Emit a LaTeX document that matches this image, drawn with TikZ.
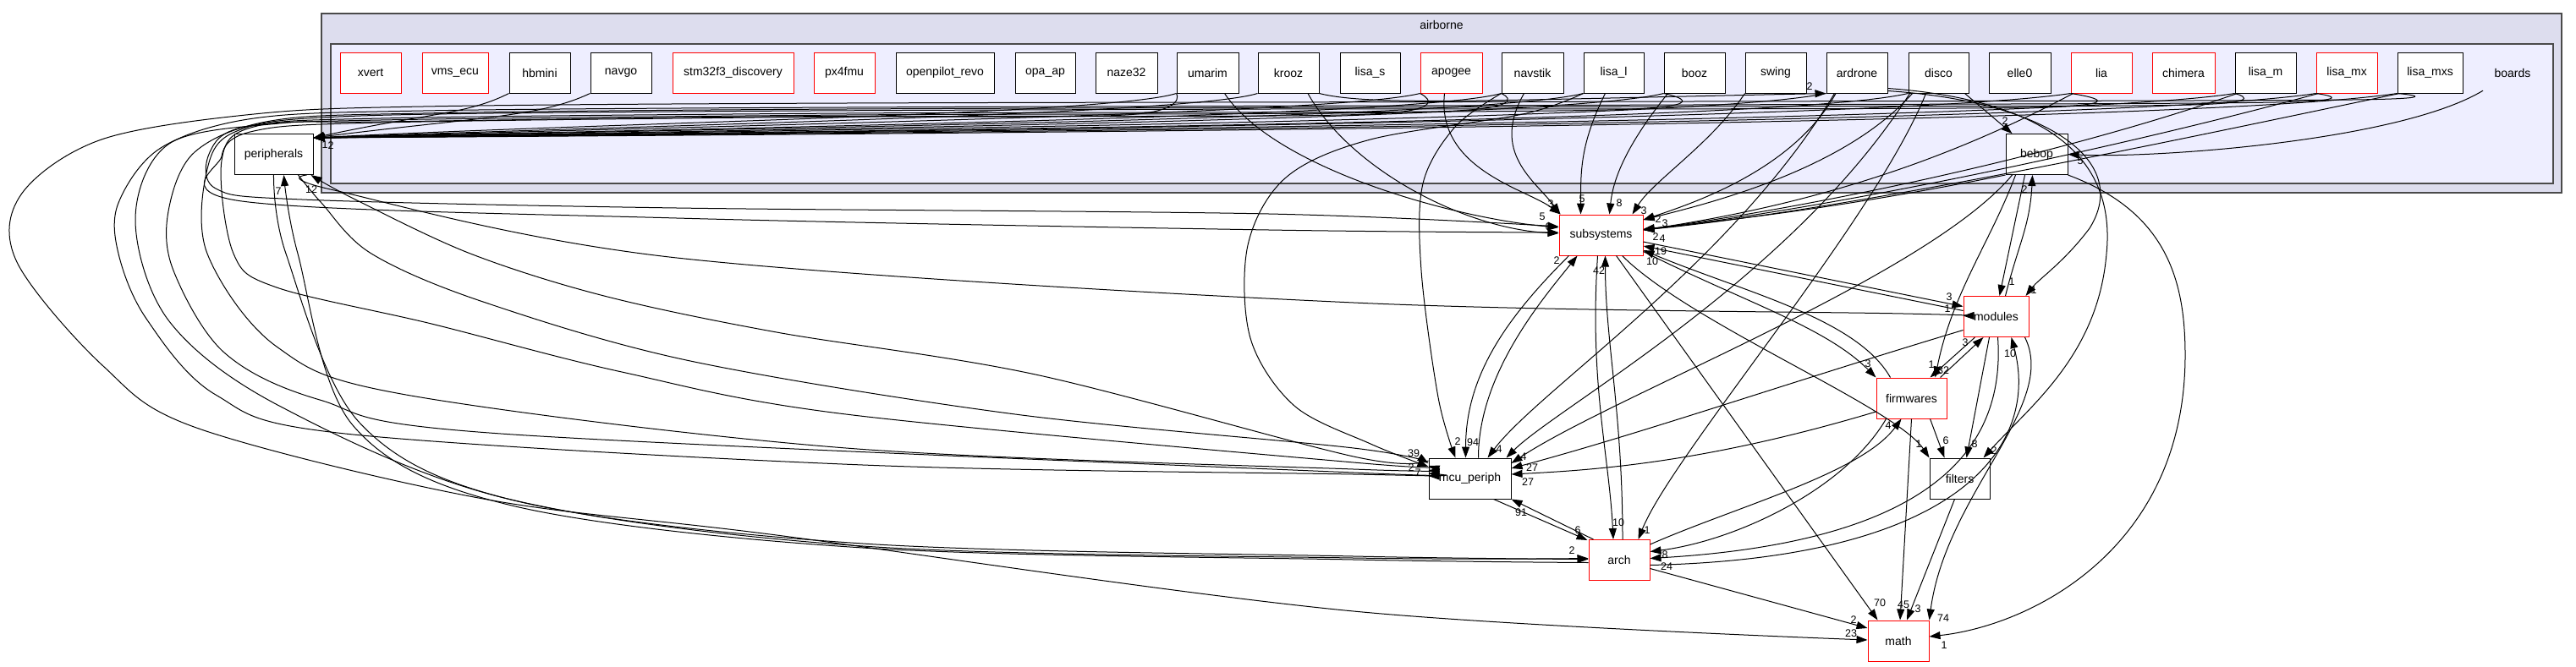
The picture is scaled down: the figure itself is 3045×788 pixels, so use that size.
\documentclass[tikz,border=0pt]{standalone}
\usepackage{fontspec}
\setmainfont{Liberation Sans}
\usetikzlibrary{arrows.meta,calc}
\definecolor{clA}{HTML}{DDDDEE}
\definecolor{clB}{HTML}{EEEEFF}
\definecolor{clE}{HTML}{4A4A4A}
\begin{document}
\begin{tikzpicture}[x=1pt,y=-1pt,
 box/.style={draw=black, fill=white, line width=1pt, minimum height=48pt, inner sep=0pt, font=\fontsize{14}{17}\selectfont},
 redbox/.style={box, draw=red},
 e/.style={line width=1pt, -{Triangle[length=13pt,width=9pt]}},
 lbl/.style={inner sep=0pt, font=\fontsize{12.5}{14}\selectfont},
 clab/.style={inner sep=0pt, font=\fontsize{14}{17}\selectfont}]
\useasboundingbox (0,0) rectangle (3045,788);
\fill[white] (0,0) rectangle (3045,788);
% clusters
\filldraw[fill=clA, draw=clE, line width=2pt] (380,16) rectangle (3028,228);
\node[clab] (airborne) at (1704,29) {airborne};
\filldraw[fill=clB, draw=clE, line width=1.6pt] (391,52) rectangle (3018,217);
% board nodes
\node[redbox, minimum width=72pt] (xvert) at (438,86) {xvert};
\node[redbox, minimum width=78pt] (vms) at (538,86) {vms\_ecu};
\node[box, minimum width=72pt] (hbmini) at (638,86) {hbmini};
\node[box, minimum width=72pt] (navgo) at (734,86) {navgo};
\node[redbox, minimum width=143pt] (stm) at (866.5,86) {stm32f3\_discovery};
\node[redbox, minimum width=72pt] (px4) at (998,86) {px4fmu};
\node[box, minimum width=116pt] (opr) at (1117,86) {openpilot\_revo};
\node[box, minimum width=71pt] (opa) at (1235.5,86) {opa\_ap};
\node[box, minimum width=73pt] (naze) at (1331.5,86) {naze32};
\node[box, minimum width=73pt] (umarim) at (1427.5,86) {umarim};
\node[box, minimum width=72pt] (krooz) at (1523,86) {krooz};
\node[box, minimum width=71pt] (lisas) at (1619.5,86) {lisa\_s};
\node[redbox, minimum width=73pt] (apogee) at (1715.5,86) {apogee};
\node[box, minimum width=73pt] (navstik) at (1811.5,86) {navstik};
\node[box, minimum width=71pt] (lisal) at (1907.5,86) {lisa\_l};
\node[box, minimum width=72pt] (booz) at (2003,86) {booz};
\node[box, minimum width=72pt] (swing) at (2099,86) {swing};
\node[box, minimum width=72pt] (ardrone) at (2195,86) {ardrone};
\node[box, minimum width=71pt] (disco) at (2291.5,86) {disco};
\node[box, minimum width=73pt] (elle) at (2387.5,86) {elle0};
\node[redbox, minimum width=72pt] (lia) at (2484,86) {lia};
\node[redbox, minimum width=74pt] (chimera) at (2581,86) {chimera};
\node[box, minimum width=72pt] (lisam) at (2678,86) {lisa\_m};
\node[redbox, minimum width=72pt] (lisamx) at (2774,86) {lisa\_mx};
\node[box, minimum width=77pt] (lisamxs) at (2872.5,86) {lisa\_mxs};
\node[clab, minimum height=48pt] (boards) at (2970,86) {boards};
\node[box, minimum width=73pt] (bebop) at (2407.5,182.5) {bebop};
% other nodes
\node[box, minimum width=93pt] (periph) at (323.5,182.5) {peripherals};
\node[redbox, minimum width=99pt] (subsys) at (1892.5,278) {subsystems};
\node[redbox, minimum width=77pt] (modules) at (2359.5,374.5) {modules};
\node[redbox, minimum width=83pt] (firm) at (2259.5,471) {firmwares};
\node[box, minimum width=97pt] (mcu) at (1737.5,566) {mcu\_periph};
\node[box, minimum width=71pt] (filters) at (2316.5,566) {filters};
\node[redbox, minimum width=72pt] (arch) at (1914,662.5) {arch};
\node[redbox, minimum width=72pt] (math) at (2244,758) {math};

% ---- boards -> peripherals
\draw[e] (hbmini.south west) .. controls +(-50,25) and +(140,-30) .. ($(periph.north east)+(0,5)$);
\draw[e] (navgo.south west) .. controls +(-60,28) and +(200,-25) .. ($(periph.north east)+(0,5)$);
\draw[e] (umarim.south west) .. controls +(-80,25) and +(350,-18) .. ($(periph.north east)+(0,5)$);
\draw[e] (krooz.south west) .. controls +(-80,25) and +(400,-15) .. ($(periph.north east)+(0,5)$);
\draw[e] (apogee.south west) .. controls +(-100,25) and +(450,-14) .. ($(periph.north east)+(0,5)$);
\draw[e] (navstik.south west) .. controls +(-100,28) and +(500,-12) .. ($(periph.north east)+(0,5)$);
\draw[e] (lisal.south west) .. controls +(-120,30) and +(550,-12) .. ($(periph.north east)+(0,5)$);
\draw[e] (booz.south west) .. controls +(-120,30) and +(600,-10) .. ($(periph.north east)+(0,5)$);
\draw[e] (ardrone.south west) .. controls +(-150,32) and +(650,-10) .. ($(periph.north east)+(0,5)$);
\draw[e] (disco.south west) .. controls +(-150,35) and +(700,-9) .. ($(periph.north east)+(0,5)$);
\draw[e] (lia.south west) .. controls +(-200,30) and +(800,-8) .. ($(periph.north east)+(0,5)$);
\draw[e] (lisam.south west) .. controls +(-200,32) and +(850,-8) .. ($(periph.north east)+(0,5)$);
\draw[e] (lisamx.south west) .. controls +(-220,34) and +(900,-7) .. ($(periph.north east)+(0,5)$);
\draw[e] (lisamxs.south west) .. controls +(-240,36) and +(950,-6) .. ($(periph.north east)+(0,5)$);
\node[lbl] (la1) at (384,171) {1};
\node[lbl] (la2) at (391,172) {2};

% ---- wrap-around edges
\draw[e] plot[smooth, tension=0.55] coordinates {(lisamxs.south west) (2780,118) (2000,120) (1000,122) (500,126) (300,135) (120,165) (25,230) (20,310) (122,433) (235,507) (571,590) (918,633) (1600,723) ($(math.west)+(0,-1)$)};
\node[lbl] (l23) at (2188,749) {23};
\draw[e] plot[smooth, tension=0.55] coordinates {(lisamx.south west) (2690,121) (2000,124) (1000,127) (500,131) (300,140) (190,175) (140,240) (140,300) (173,377) (255,467) (408,513) (1020,550) (1600,561) ($(mcu.west)+(0,-3)$)};
\draw[e] plot[smooth, tension=0.55] coordinates {(lisam.south west) (2590,124) (2000,126) (1000,129) (500,134) (320,143) (230,180) (199,250) (205,320) (265,417) (378,473) (592,513) (1600,559) ($(mcu.west)+(0,-6)$)};
\draw[e] plot[smooth, tension=0.55] coordinates {(lia.south west) (2400,127) (1500,129) (800,132) (400,138) (280,155) (245,200) (245,300) (327,410) (480,467) (1000,530) (1600,555) ($(mcu.west)+(0,-10)$)};
\draw[e] plot[smooth, tension=0.55] coordinates {(booz.south west) (1900,130) (1000,134) (450,140) (300,150) (262,190) (276,300) (327,340) (510,383) (735,440) (1000,490) (1600,547) ($(mcu.west)+(0,-15)$)};
\draw[e] plot[smooth, tension=0.55] coordinates {(navstik.south west) (1700,132) (1000,136) (450,142) (290,150) (248,180) (255,223) (357,236) (800,246) (1500,253) ($(subsys.west)+(0,-10)$)};
\draw[e] plot[smooth, tension=0.55] coordinates {(apogee.south west) (1620,135) (1000,138) (450,145) (300,155) (262,185) (286,238) (800,258) (1500,272) ($(subsys.west)+(0,-3)$)};
\draw[e] plot[smooth, tension=0.55] coordinates {(umarim.south west) (1330,136) (900,138) (450,144) (330,146) (200,170) (160,260) (200,380) (330,480) (600,590) (1020,646) (1600,660) ($(arch.west)+(0,-2)$)};
\draw[e] plot[smooth, tension=0.55] coordinates {(lisal.south west) (1800,135) (1620,165) (1520,210) (1475,290) (1478,400) (1530,480) (1620,525) ($(mcu.west)+(0,-14)$)};
\node[lbl] (l39) at (1671,536) {39};
\node[lbl] (lm2) at (1668,553) {2};
\node[lbl] (lm7) at (1676,559) {7};

% ---- peripherals edges
\draw[e] plot[smooth, tension=0.55] coordinates {(periph.south) (338,300) (425,500) (612,593) (1020,643) (1600,658) ($(arch.west)+(0,-1)$)};
\node[lbl] (lar2) at (1858,651) {2};
\draw[e] plot[smooth, tension=0.55] coordinates {($(arch.west)+(0,3)$) (1600,662) (1020,648) (605,598) (417,503) (352,300) ($(periph.south)+(12,0)$)};
\node[lbl] (lp7) at (329,226) {7};
\draw[e] plot[smooth, tension=0.55] coordinates {($(periph.south east)+(-18,0)$) (380,240) (439,300) (571,357) (816,427) (1200,490) (1600,530) ($(mcu.west)+(0,-18)$)};
\draw[e] plot[smooth, tension=0.55] coordinates {($(mcu.west)+(0,-21)$) (1600,540) (1224,443) (918,393) (714,350) (556,300) (420,236) ($(periph.south east)+(-3,0)$)};
\node[lbl] (lp12) at (368,224) {12};
\draw[e] plot[smooth, tension=0.55] coordinates {($(periph.south east)+(-8,0)$) (395,225) (800,305) (1600,358) (2250,371) ($(modules.west)+(0,-1)$)};
\node[lbl] (lmo1) at (2302,365) {1};

% ---- boards -> subsystems
\draw[e] ($(umarim.south)+(20,0)$) .. controls +(60,90) and +(-120,-10) .. ($(subsys.west)+(0,-9)$);
\draw[e] ($(krooz.south)+(23,0)$) .. controls +(50,90) and +(-110,-5) .. ($(subsys.west)+(0,-2)$);
\node[lbl] (ls5) at (1823,256) {5};
\node[lbl] (ls6) at (1830,268) {6};
\draw[e] ($(apogee.south)+(-8,0)$) .. controls +(-10,90) and +(-40,-30) .. ($(subsys.north west)+(2,0)$);
\draw[e] ($(navstik.south)+(-10,0)$) .. controls +(-40,70) and +(-30,-40) .. ($(subsys.north west)+(2,0)$);
\node[lbl] (ls3a) at (1833,241) {3};
\draw[e] ($(lisal.south)+(-10,0)$) .. controls +(-30,60) and +(0,-50) .. ($(subsys.north)+(-24,0)$);
\node[lbl] (ls5b) at (1870,235) {5};
\draw[e] ($(booz.south west)+(5,0)$) .. controls +(-40,50) and +(5,-50) .. ($(subsys.north)+(10,0)$);
\node[lbl] (ls8) at (1914,240) {8};
\draw[e] (swing.south west) .. controls +(-40,60) and +(25,-40) .. ($(subsys.north)+(37,0)$);
\node[lbl] (ls3b) at (1943,249) {3};
\draw[e] ($(ardrone.south)+(-25,0)$) .. controls +(-50,90) and +(60,-20) .. ($(subsys.east)+(0,-18)$);
\draw[e] ($(disco.south west)+(5,0)$) .. controls +(-80,90) and +(80,-20) .. ($(subsys.east)+(0,-18)$);
\node[lbl] (ls2a) at (1960,259) {2};
\node[lbl] (ls3c) at (1968,264) {3};
\draw[e] (bebop.south west) .. controls +(-150,30) and +(150,-15) .. ($(subsys.east)+(0,-7)$);
\draw[e] ($(lia.south west)+(3,0)$) .. controls +(-150,80) and +(200,-30) .. ($(subsys.east)+(0,-6)$);
\draw[e] ($(lisam.south west)+(3,0)$) .. controls +(-200,70) and +(220,-30) .. ($(subsys.east)+(0,-6)$);
\draw[e] ($(lisamx.south west)+(3,0)$) .. controls +(-220,60) and +(240,-28) .. ($(subsys.east)+(0,-6)$);
\draw[e] ($(lisamxs.south west)+(3,0)$) .. controls +(-240,50) and +(260,-26) .. ($(subsys.east)+(0,-6)$);
\node[lbl] (ls2b) at (1957,280) {2};
\node[lbl] (ls4) at (1965,282) {4};

% ---- other board edges
\draw[e] (krooz.south east) .. controls +(60,15) and +(-400,8) .. (ardrone.south west);
\node[lbl] (lad2) at (2139,102) {2};
\draw[e] ($(disco.south east)+(-5,0)$) -- ($(bebop.north west)+(8,0)$);
\node[lbl] (lbb2) at (2370,143) {2};
\draw[e] ($(boards.south)+(-35,-3)$) .. controls +(-100,60) and +(100,5) .. (bebop.east);
\node[lbl] (lbb5) at (2459,190) {5};
\draw[e] plot[smooth, tension=0.55] coordinates {(navstik.south west) (1720,150) (1682,217) (1680,320) (1700,470) ($(mcu.north)+(-17,0)$)};
\node[lbl] (lmc2) at (1723,522) {2};
\draw[e] ($(ardrone.south west)+(10,0)$) .. controls +(-120,200) and +(60,-80) .. ($(mcu.north east)+(-28,0)$);
\node[lbl] (lmc4a) at (1772,531) {4};
\draw[e] ($(disco.south west)+(2,0)$) .. controls +(-140,220) and +(60,-60) .. ($(mcu.north east)+(-6,0)$);
\draw[e] ($(bebop.south west)+(8,0)$) .. controls +(-100,120) and +(120,-80) .. ($(mcu.east)+(0,-18)$);
\node[lbl] (lmc4b) at (1801,540) {4};
\draw[e] ($(disco.south)+(-15,0)$) .. controls +(-60,150) and +(40,-100) .. ($(arch.north east)+(-14,0)$);
\node[lbl] (lar1) at (1947,627) {1};
\draw[e] ($(ardrone.south east)+(0,-3)$) .. controls (2420,120) and (2520,190) .. (2470,270) .. controls (2440,310) and (2410,330) .. ($(modules.north east)+(-4,0)$);
\node[lbl] (lmo1b) at (2404,343) {1};
\draw[e] ($(ardrone.south east)+(0,-6)$) .. controls (2440,120) and (2500,200) .. (2490,300) .. controls (2480,420) and (2400,480) .. ($(filters.north east)+(-8,0)$);
\node[lbl] (lfi2) at (2357,533) {2};

% ---- bebop edges
\draw[e] ($(bebop.south)+(-14,0)$) -- ($(modules.north)+(4,0)$);
\node[lbl] (lmo1c) at (2378,333) {1};
\draw[e] ($(modules.north)+(11,0)$) .. controls +(15,-60) and +(-3,60) .. ($(bebop.south)+(-5,0)$);
\node[lbl] (lbb2b) at (2393,224) {2};
\draw[e] ($(bebop.south west)+(12,0)$) .. controls +(-30,80) and +(20,-100) .. ($(firm.north east)+(-14,0)$);
\node[lbl] (lfw32) at (2297,438) {32};
\draw[e] (bebop.south east) .. controls (2560,250) and (2583,330) .. (2583,420) .. controls (2583,650) and (2400,740) .. ($(math.east)+(0,-5)$);
\node[lbl] (lma1) at (2298,763) {1};

% ---- subsystems edges
\draw[e] ($(subsys.south west)+(12,0)$) .. controls +(-70,70) and +(0,-100) .. ($(mcu.north)+(-5,0)$);
\node[lbl] (lmc94) at (1741,523) {94};
\draw[e] ($(mcu.north)+(10,0)$) .. controls +(0,-100) and +(-40,50) .. ($(subsys.south west)+(22,0)$);
\node[lbl] (ls2c) at (1840,308) {2};
\draw[e] ($(subsys.south)+(-4,0)$) .. controls +(-10,150) and +(-5,-100) .. ($(arch.north)+(-7,0)$);
\node[lbl] (lar10) at (1913,618) {10};
\draw[e] ($(arch.north)+(4,0)$) .. controls +(0,-150) and +(0,100) .. ($(subsys.south)+(5,0)$);
\node[lbl] (ls42) at (1890,320) {42};
\draw[e] ($(subsys.south east)+(-25,0)$) .. controls +(80,80) and +(-40,-60) .. (filters.north west);
\node[lbl] (lfi1) at (2268,525) {1};
\draw[e] ($(subsys.south east)+(-32,0)$) -- ($(math.north west)+(12,0)$);
\node[lbl] (lma70) at (2222,713) {70};
\draw[e] ($(subsys.east)+(0,8)$) -- ($(modules.west)+(0,-12)$);
\node[lbl] (lmo3) at (2304,351) {3};
\draw[e] ($(modules.west)+(0,-7)$) -- ($(subsys.east)+(0,13)$);
\node[lbl] (ls19) at (1963,297) {19};
\draw[e] ($(subsys.south east)+(0,-5)$) .. controls +(120,60) and +(-60,-60) .. (firm.north west);
\node[lbl] (lfw3) at (2208,430) {3};
\draw[e] ($(firm.north west)+(17,0)$) .. controls +(-40,-70) and +(120,50) .. ($(subsys.east)+(0,18)$);
\node[lbl] (ls10) at (1953,309) {10};

% ---- modules / firmwares edges
\draw[e] ($(modules.south west)+(14,0)$) -- ($(firm.north east)+(-20,0)$);
\node[lbl] (lfw1) at (2283,431) {1};
\draw[e] ($(firm.north east)+(-8,0)$) -- ($(modules.south west)+(24,0)$);
\node[lbl] (lmo3b) at (2323,405) {3};
\draw[e] ($(modules.west)+(0,16)$) .. controls +(-200,60) and +(150,-40) .. ($(mcu.east)+(0,-12)$);
\node[lbl] (lmc27a) at (1811,553) {27};
\draw[e] ($(firm.west)+(0,16)$) .. controls +(-200,60) and +(100,-5) .. ($(mcu.east)+(0,-5)$);
\node[lbl] (lmc27b) at (1806,570) {27};
\draw[e] ($(firm.south east)+(-20,0)$) -- ($(filters.north)+(-18,0)$);
\node[lbl] (lfi6) at (2300,521) {6};
\draw[e] ($(modules.south)+(-8,0)$) -- ($(filters.north)+(8,0)$);
\node[lbl] (lfi8) at (2334,525) {8};
\draw[e] (firm.south) -- ($(math.north)+(2,0)$);
\node[lbl] (lma45) at (2250,715) {45};
\draw[e] ($(filters.south)+(-6,0)$) -- ($(math.north)+(10,0)$);
\node[lbl] (lma3) at (2267,720) {3};
\draw[e] ($(modules.south east)+(-5,0)$) .. controls +(40,80) and +(20,-150) .. (math.north east);
\node[lbl] (lma74) at (2297,731) {74};

% ---- arch edges
\draw[e] ($(mcu.south)+(28,0)$) -- ($(arch.north west)+(-1,1)$);
\node[lbl] (lar6) at (1865,627) {6};
\draw[e] ($(arch.north west)+(6,0)$) -- (mcu.south east);
\node[lbl] (lmc91) at (1798,606) {91};
\draw[e] ($(firm.south west)+(12,0)$) .. controls (2180,580) and (2050,640) .. ($(arch.east)+(0,-10)$);
\node[lbl] (lar8) at (1968,656) {8};
\draw[e] ($(arch.north east)+(0,6)$) .. controls (2050,600) and (2200,560) .. ($(firm.south)+(-12,0)$);
\node[lbl] (lfw4) at (2232,503) {4};
\draw[e] ($(modules.south)+(2,0)$) .. controls (2370,520) and (2300,640) .. ($(arch.east)+(0,-2)$);
\node[lbl] (lar24) at (1970,670) {24};
\draw[e] ($(arch.east)+(0,6)$) .. controls (2330,660) and (2410,520) .. ($(modules.south)+(18,0)$);
\node[lbl] (lmo10) at (2376,418) {10};
\draw[e] ($(arch.east)+(0,10)$) -- ($(math.west)+(0,-15)$);
\node[lbl] (lma2) at (2191,733) {2};
\end{tikzpicture}
\end{document}
